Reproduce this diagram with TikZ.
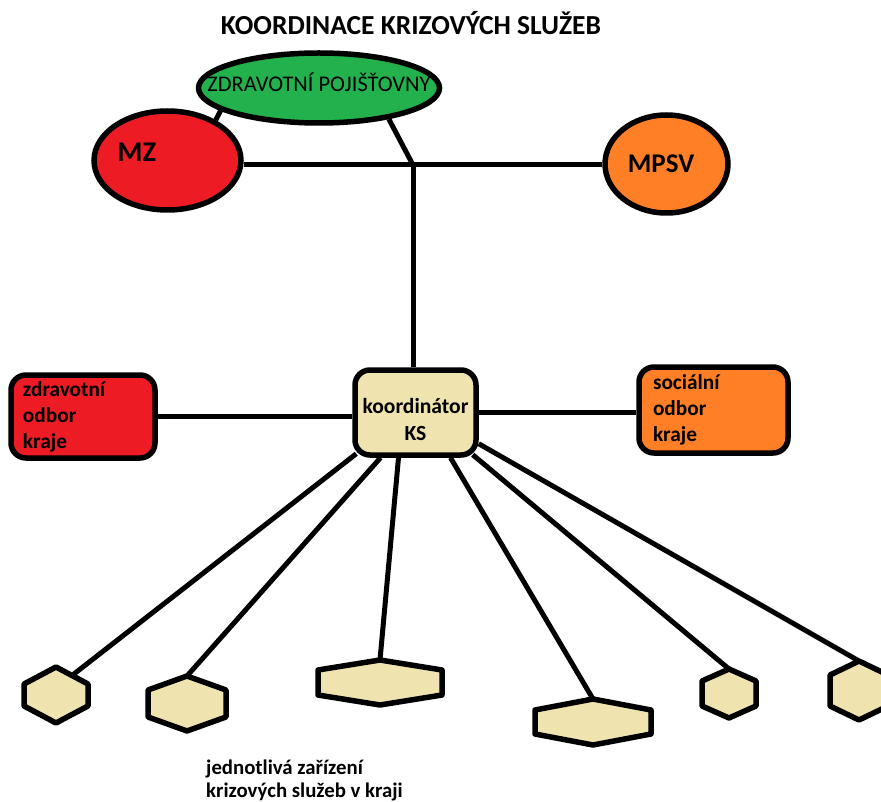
\documentclass[tikz,border=0pt]{standalone}
\usepackage{fontspec}
\setmainfont{Carlito}
\usetikzlibrary{shapes.geometric}
\definecolor{paintred}{HTML}{ED1C24}
\definecolor{paintorange}{HTML}{FF7F27}
\definecolor{paintgreen}{HTML}{22B14C}
\definecolor{paintbeige}{HTML}{EFE4B0}
\tikzset{
  link/.style={line width=5pt},
  office/.style={ellipse,draw,line width=5.5pt,inner sep=0pt},
  dept/.style={draw,line width=5.5pt,rounded corners=15pt,inner xsep=12pt,inner ysep=0pt,
    align=left,font=\bfseries\fontsize{21.3}{26}\selectfont},
  facility/.style={draw,line width=5.5pt,fill=paintbeige,line join=round},
  label text/.style={inner sep=0pt,font=\bfseries\fontsize{#1}{#1}\selectfont},
}
% hexagon: name, cx, cy, half width, half height, shoulder
\newcommand{\hexcell}[6]{%
  \draw[facility] (#2,#3-#5) -- (#2+#4,#3-#5+#6) -- (#2+#4,#3+#5-#6) -- (#2,#3+#5)
    -- (#2-#4,#3+#5-#6) -- (#2-#4,#3-#5+#6) -- cycle;
  \coordinate (#1) at (#2,#3-#5);
  \coordinate (#1-ne) at (#2+#4/2,#3-#5+#6/2);
}
\begin{document}
\begin{tikzpicture}[x=1pt,y=-1pt]
  \useasboundingbox (0,0) rectangle (881,802);
  %% Title
  \node[label text=27.5,anchor=base] (title) at (411,35) {KOORDINACE KRIZOVÝCH SLUŽEB};
  %% Ministries
  \node[office,fill=paintgreen,minimum width=241,minimum height=70] (zp) at (319,88) {};
  \node[inner sep=0pt,anchor=base,font=\fontsize{22.4}{24}\selectfont] (zpname) at (319,92)
    {ZDRAVOTNÍ POJIŠŤOVNY};
  \node[office,fill=paintred,minimum width=147,minimum height=99] (mz) at (167.5,160.5) {};
  \node[label text=28.5,anchor=base] (mzname) at (137,162) {MZ};
  \node[office,fill=paintorange,minimum width=123,minimum height=98] (mpsv) at (666.5,164) {};
  \node[label text=27,anchor=base] (mpsvname) at (661,173) {MPSV};
  %% Region
  \node[dept,fill=paintbeige,minimum width=121,minimum height=85] (kord) at (415.5,412.5) {};
  \node[label text=21.6,anchor=north,align=center,font=\bfseries\fontsize{21.6}{27}\selectfont]
    (kordname) at (415.5,398) {koordinátor\\KS};
  \node[dept,fill=paintred,text width=120,minimum height=83] (zdept) at (83,416.5)
    {zdravotní\\odbor\\kraje};
  \node[dept,fill=paintorange,text width=121,inner xsep=14pt,minimum height=86] (sdept) at (713.5,410)
    {sociální\\odbor\\kraje};
  %% Links
  \coordinate (hub) at (413,165);
  \draw[link] (mz.east |- hub) -- (mpsv.west |- hub);
  \draw[link] (hub) -- (hub |- kord.north);
  \draw[link] (zp.-24) -- (hub);
  \draw[link] (mz.40) -- (zp.193);
  \draw[link] (zdept.east) -- (zdept.east -| kord.west);
  \draw[link] (kord.east) -- (kord.east -| sdept.west);
  %% Facilities
  \hexcell{h1}{56}{695}{32}{28}{17}
  \hexcell{h2}{187}{703.5}{39}{27.5}{14}
  \hexcell{h3}{380}{682.5}{62}{22.5}{10}
  \hexcell{h4}{593}{722}{58}{23}{11}
  \hexcell{h5}{729}{693.5}{27}{24.5}{12}
  \hexcell{h6}{859}{690.5}{29}{29.5}{14}
  \draw[link] ([shift={(4pt,4pt)}]kord.south west) -- (h1-ne);
  \draw[link] ([xshift=-35pt]kord.south) -- (h2);
  \draw[link] ([xshift=-17pt]kord.south) -- (h3);
  \draw[link] ([xshift=35pt]kord.south) -- (h4);
  \draw[link] ([shift={(-6pt,3pt)}]kord.south east) -- (h5);
  \draw[link] ([yshift=14pt]kord.south east) -- (h6);
  %% Caption
  \node[label text=20.8,anchor=north west,align=left,font=\bfseries\fontsize{20.8}{23}\selectfont]
    (caption) at (206,760) {jednotlivá zařízení\\krizových služeb v kraji};
\end{tikzpicture}
\end{document}
